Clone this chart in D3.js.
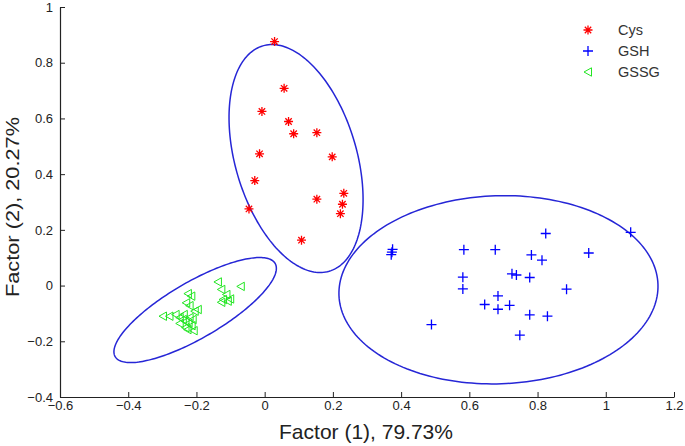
<!DOCTYPE html>
<html>
<head>
<meta charset="utf-8">
<script src="https://cdn.jsdelivr.net/npm/d3@7"></script>
<style>
  body { margin: 0; background: #fff; }
  text { font-family: Arial, "Liberation Sans", sans-serif; }
</style>
</head>
<body>
<div class="canvas"></div>
<script>
// data
const xTicks = [-0.6, -0.4, -0.2, 0, 0.2, 0.4, 0.6, 0.8, 1, 1.2];
const yTicks = [-0.4, -0.2, 0, 0.2, 0.4, 0.6, 0.8, 1];

const cysPoints = [
  [0.029, 0.876], [0.057, 0.708], [-0.008, 0.625], [0.070, 0.589], [0.085, 0.545],
  [0.153, 0.549], [-0.015, 0.473], [0.198, 0.462], [-0.029, 0.377], [0.153, 0.310],
  [0.232, 0.331], [0.228, 0.292], [0.222, 0.258], [-0.046, 0.275], [0.108, 0.163]
];

const gshPoints = [
  [1.073, 0.191], [0.824, 0.187], [0.950, 0.117], [0.375, 0.130], [0.373, 0.120],
  [0.371, 0.111], [0.584, 0.129], [0.676, 0.129], [0.782, 0.110], [0.813, 0.091],
  [0.581, 0.030], [0.581, -0.012], [0.725, 0.042], [0.738, 0.038], [0.777, 0.029],
  [0.885, -0.013], [0.684, -0.037], [0.645, -0.068], [0.684, -0.085], [0.718, -0.071],
  [0.777, -0.105], [0.829, -0.110], [0.489, -0.140], [0.748, -0.178]
];

const gssgPoints = [
  [-0.137, 0.013], [-0.070, -0.003], [-0.127, -0.014], [-0.112, -0.032], [-0.101, -0.048],
  [-0.122, -0.050], [-0.127, -0.060], [-0.108, -0.056],
  [-0.225, -0.029], [-0.215, -0.038], [-0.230, -0.062], [-0.220, -0.072], [-0.205, -0.092],
  [-0.196, -0.086], [-0.298, -0.110], [-0.279, -0.110], [-0.261, -0.104], [-0.249, -0.115],
  [-0.240, -0.122], [-0.232, -0.129], [-0.223, -0.136], [-0.214, -0.144], [-0.237, -0.104],
  [-0.220, -0.115], [-0.232, -0.151], [-0.211, -0.122], [-0.249, -0.136], [-0.226, -0.158],
  [-0.208, -0.162]
];

// ellipses: centre x, centre y, then two half-axis vectors (data units)
const ellipseCys = [0.092, 0.456, 0.0973, -0.4045, -0.1707, -0.0614];
const ellipseGsh = [0.6854, -0.0151, 0.4676, 0.0194, 0.0094, -0.3374];
const ellipseGssg = [-0.2038, -0.0879, 0.2345, 0.1673, 0.0413, -0.0869];

const seriesNames = ['Cys', 'GSH', 'GSSG'];

const margin = { top: 7, right: 11, bottom: 49, left: 60 };
const graphWidth = 685 - margin.left - margin.right;
const graphHeight = 446 - margin.top - margin.bottom;

const svg = d3.select('.canvas')
  .append('svg')
  .attr('width', 685)
  .attr('height', 446);

const graph = svg.append('g')
  .attr('transform', `translate(${margin.left}, ${margin.top})`);

const x = d3.scaleLinear().domain([-0.6, 1.2]).range([0, graphWidth]);
const y = d3.scaleLinear().domain([-0.4, 1]).range([graphHeight, 0]);

// axes, ticks pointing inward like matlab
const xAxis = d3.axisBottom(x).tickValues(xTicks).tickSizeInner(-5).tickSizeOuter(0)
  .tickPadding(6).tickFormat(d => d3.format('')(d));
const yAxis = d3.axisLeft(y).tickValues(yTicks).tickSizeInner(-5).tickSizeOuter(0)
  .tickPadding(7).tickFormat(d => d3.format('')(d));

const xAxisGroup = graph.append('g')
  .attr('transform', `translate(0, ${graphHeight})`)
  .call(xAxis);
const yAxisGroup = graph.append('g').call(yAxis);

[xAxisGroup, yAxisGroup].forEach(g => {
  g.select('.domain').attr('stroke', '#222').attr('stroke-width', 1.2);
  g.selectAll('.tick line').attr('stroke', '#222');
  g.selectAll('.tick text')
    .attr('font-size', 13)
    .attr('font-family', 'Arial, "Liberation Sans", sans-serif')
    .attr('fill', '#222');
});
xAxisGroup.selectAll('.tick text').attr('dy', '0.55em');

// ellipses
const ellipseLine = d3.line().x(d => x(d[0])).y(d => y(d[1]));
const ellipsePoints = e => d3.range(0, 201).map(i => {
  const t = i / 200 * 2 * Math.PI;
  return [e[0] + e[2] * Math.cos(t) + e[4] * Math.sin(t),
          e[1] + e[3] * Math.cos(t) + e[5] * Math.sin(t)];
});

graph.selectAll('path.ellipse')
  .data([ellipseCys, ellipseGsh, ellipseGssg])
  .enter().append('path')
  .attr('class', 'ellipse')
  .attr('d', e => ellipseLine(ellipsePoints(e)) + 'Z')
  .attr('fill', 'none')
  .attr('stroke', '#2626d6')
  .attr('stroke-width', 1.5);

// marker shapes
const asterisk = 'M-4.5,0H4.5M0,-4.5V4.5M-3.2,-3.2L3.2,3.2M-3.2,3.2L3.2,-3.2';
const plus = 'M-5,0H5M0,-5V5';
const triangle = 'M-4,0L3.5,-4.2L3.5,4.2Z';

const drawMarkers = (points, shape, colour, width) => {
  graph.append('g').selectAll('path')
    .data(points)
    .enter().append('path')
    .attr('d', shape)
    .attr('transform', d => `translate(${x(d[0])}, ${y(d[1])})`)
    .attr('fill', 'none')
    .attr('stroke', colour)
    .attr('stroke-width', width);
};

drawMarkers(cysPoints, asterisk, '#ff0000', 1.3);
drawMarkers(gshPoints, plus, '#0000ff', 1.3);
drawMarkers(gssgPoints, triangle, '#22e622', 1);

// legend
const legend = svg.append('g');
const legendShapes = [asterisk, plus, triangle];
const legendColours = ['#ff0000', '#0000ff', '#22e622'];
seriesNames.forEach((name, i) => {
  const ly = 30 + i * 21;
  legend.append('path')
    .attr('d', legendShapes[i])
    .attr('transform', `translate(588, ${ly})`)
    .attr('fill', 'none')
    .attr('stroke', legendColours[i])
    .attr('stroke-width', i === 2 ? 1 : 1.3);
  legend.append('text')
    .text(name)
    .attr('x', 618)
    .attr('y', ly + 5)
    .attr('font-size', 14.5)
    .attr('fill', '#333');
});

// axis titles
svg.append('text')
  .text('Factor (1), 79.73%')
  .attr('x', 366)
  .attr('y', 439)
  .attr('text-anchor', 'middle')
  .attr('font-size', 21)
  .attr('fill', '#222');

svg.append('text')
  .text('Factor (2), 20.27%')
  .attr('transform', 'translate(19, 207) rotate(-90)')
  .attr('text-anchor', 'middle')
  .attr('font-size', 19)
  .attr('textLength', 180)
  .attr('lengthAdjust', 'spacingAndGlyphs')
  .attr('fill', '#222');
</script>
</body>
</html>
